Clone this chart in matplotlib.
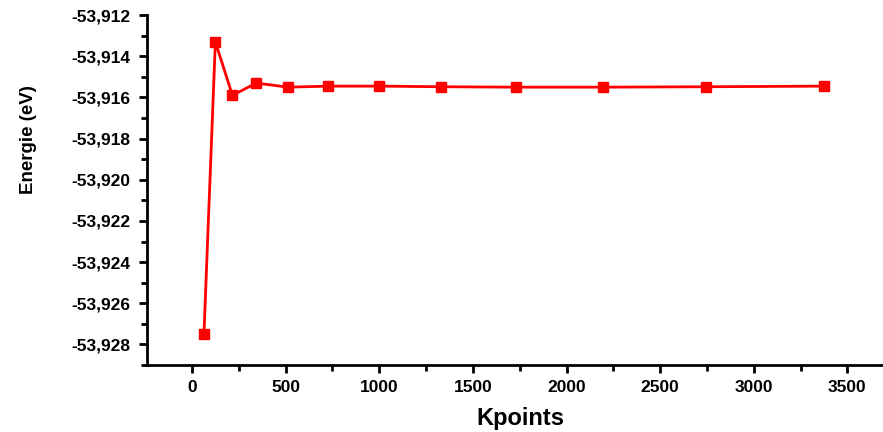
import matplotlib
matplotlib.use("Agg")
import matplotlib.pyplot as plt
from matplotlib.ticker import MultipleLocator, FuncFormatter

# k-point convergence: total energy vs number of k-points
kpoints = [64, 125, 216, 343, 512, 729, 1000, 1331, 1728, 2197, 2744, 3375]
energy = [-53.92750, -53.91330, -53.91590, -53.91530, -53.91550, -53.91545,
          -53.91545, -53.91548, -53.91550, -53.91550, -53.91548, -53.91545]

plt.rcParams['font.family'] = ['Liberation Sans', 'DejaVu Sans']
plt.rcParams['font.weight'] = 'bold'

fig = plt.figure(figsize=(8.83, 4.32), dpi=100)
ax = fig.add_axes([0.1665, 0.155, 0.8335, 0.81])

ax.plot(kpoints, energy, color='red', lw=2, marker='s', markersize=7,
        markeredgecolor='red', clip_on=False)

ax.set_xlim(-240, 3690)
ax.set_ylim(-53.929, -53.912)
ax.xaxis.set_major_locator(MultipleLocator(500))
ax.xaxis.set_minor_locator(MultipleLocator(250))
ax.yaxis.set_major_locator(MultipleLocator(0.002))
ax.yaxis.set_minor_locator(MultipleLocator(0.001))
ax.yaxis.set_major_formatter(FuncFormatter(lambda v, p: f"{v:.3f}".replace('.', ',')))

for s in ['top', 'right']:
    ax.spines[s].set_visible(False)
for s in ['left', 'bottom']:
    ax.spines[s].set_linewidth(2)

ax.tick_params(which='major', direction='out', length=6, width=2, labelsize=12.5, pad=6)
ax.tick_params(axis='x', which='major', pad=5)
ax.tick_params(which='minor', direction='out', length=4, width=2)
for lbl in ax.get_xticklabels() + ax.get_yticklabels():
    lbl.set_fontweight('bold')

ax.set_xlabel('Kpoints', fontsize=17, fontweight='bold')
ax.set_ylabel('Energie (eV)', fontsize=13.5, fontweight='bold')
ax.xaxis.set_label_coords(0.507, -0.12)
ax.yaxis.set_label_coords(-0.15, 0.643)

fig.savefig('out.png', dpi=100)
